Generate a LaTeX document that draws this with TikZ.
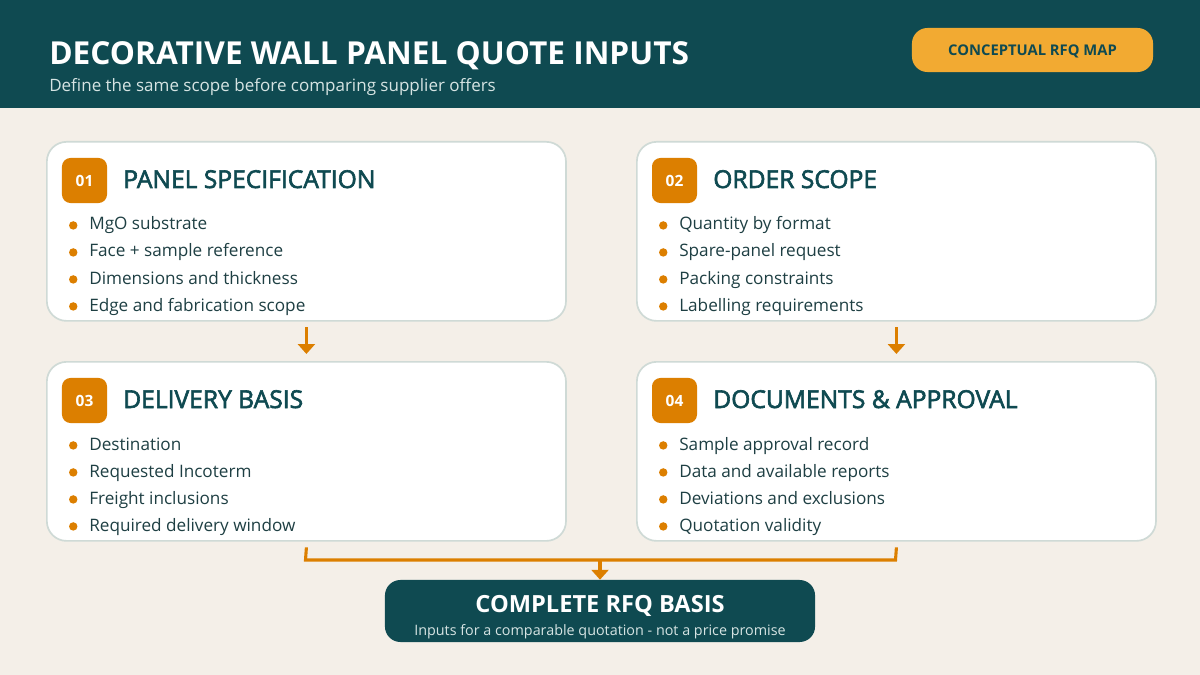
\documentclass[tikz,border=0pt]{standalone}
\usepackage{fontspec}
\setmainfont{Open Sans}
\newfontfamily\semibold{Open Sans}[FakeBold=2.5]
\usetikzlibrary{positioning,arrows.meta}
\definecolor{rfqteal}{HTML}{0F4A51}
\definecolor{rfqorange}{HTML}{DC7F00}
\definecolor{rfqgold}{HTML}{F2AA32}
\definecolor{rfqbg}{HTML}{F4EFE8}
\definecolor{rfqline}{HTML}{CFDAD6}
\definecolor{rfqtext}{HTML}{1E3F43}
\definecolor{rfqsub}{HTML}{D6E4E3}

\tikzset{
  card/.style={draw=rfqline, line width=1.2pt, fill=white, rounded corners=14pt,
    minimum width=12.975cm, minimum height=4.475cm, anchor=north west, inner sep=0pt},
  numbox/.style={fill=rfqorange, rounded corners=6pt, minimum size=1.125cm,
    text=white, font=\fontsize{11}{13}\selectfont\bfseries, inner sep=0pt},
  cardtitle/.style={anchor=base west, text=rfqteal, font=\semibold\fontsize{17.5}{20}\selectfont, inner sep=0pt},
  item/.style={anchor=base west, text=rfqtext, font=\fontsize{12.2}{15}\selectfont, inner sep=0pt,
    text height=9pt, text depth=2.5pt,
    label={[circle, fill=rfqorange, inner sep=0pt, minimum size=6pt, label distance=8pt]left:{}}},
  flow/.style={draw=rfqorange, line width=2.2pt, -{Triangle[length=7pt,width=12pt]}},
  joinline/.style={draw=rfqorange, line width=2.2pt}
}

\begin{document}
\begin{tikzpicture}[x=0.025cm, y=-0.025cm]
  \fill[rfqbg] (0,0) rectangle (1200,675);
  \fill[rfqteal] (0,0) rectangle (1200,108);
  \useasboundingbox (0,0) rectangle (1200,675);

  % header
  \node[anchor=base west, inner sep=0pt, text=white, font=\fontsize{22.5}{26}\selectfont\bfseries]
    (title) at (49,65) {DECORATIVE WALL PANEL QUOTE INPUTS};
  \node[anchor=base west, inner sep=0pt, text=rfqsub, font=\fontsize{12.1}{15}\selectfont]
    (subtitle) at (49,92) {Define the same scope before comparing supplier offers};
  \node[fill=rfqgold, rounded corners=11pt, minimum width=6.025cm, minimum height=1.1cm,
    text height=7.5pt, text depth=0pt, text=rfqteal, font=\fontsize{10.5}{12}\selectfont\bfseries]
    (tag) at (1032.5,50) {CONCEPTUAL RFQ MAP};

  % cards
  \node[card] (c1) at (46,141) {};
  \node[card] (c2) at (636,141) {};
  \node[card] (c3) at (46,361) {};
  \node[card] (c4) at (636,361) {};

  \node[numbox] (n1) at (84.5,180.5) {01};
  \node[cardtitle] (t1) at (123,188) {PANEL SPECIFICATION};
  \node[item] (i11) at (89,230) {MgO substrate};
  \node[item] (i12) at (89,257) {Face + sample reference};
  \node[item] (i13) at (89,284) {Dimensions and thickness};
  \node[item] (i14) at (89,311) {Edge and fabrication scope};

  \node[numbox] (n2) at (674.5,180.5) {02};
  \node[cardtitle] (t2) at (713,188) {ORDER SCOPE};
  \node[item] (i21) at (679,230) {Quantity by format};
  \node[item] (i22) at (679,257) {Spare-panel request};
  \node[item] (i23) at (679,284) {Packing constraints};
  \node[item] (i24) at (679,311) {Labelling requirements};

  \node[numbox] (n3) at (84.5,400.5) {03};
  \node[cardtitle] (t3) at (123,408) {DELIVERY BASIS};
  \node[item] (i31) at (89,450) {Destination};
  \node[item] (i32) at (89,477) {Requested Incoterm};
  \node[item] (i33) at (89,504) {Freight inclusions};
  \node[item] (i34) at (89,531) {Required delivery window};

  \node[numbox] (n4) at (674.5,400.5) {04};
  \node[cardtitle] (t4) at (713,408) {DOCUMENTS \& APPROVAL};
  \node[item] (i41) at (679,450) {Sample approval record};
  \node[item] (i42) at (679,477) {Data and available reports};
  \node[item] (i43) at (679,504) {Deviations and exclusions};
  \node[item] (i44) at (679,531) {Quotation validity};

  % result
  \node[fill=rfqteal, rounded corners=11pt, minimum width=10.75cm, minimum height=1.55cm,
    inner sep=0pt] (basis) at (600,611) {};
  \node[anchor=base, text=white, inner sep=0pt, font=\fontsize{16.8}{18}\selectfont\bfseries]
    (basistitle) at (600,612) {COMPLETE RFQ BASIS};
  \node[anchor=base, text=rfqsub, inner sep=0pt, font=\fontsize{10.2}{12}\selectfont]
    (basisnote) at (600,635) {Inputs for a comparable quotation - not a price promise};

  % connectors
  \coordinate (j1) at (305.5,560);
  \coordinate (j2) at (895.5,560);
  \coordinate (jm) at (600,560);
  \draw[flow] ([yshift=-4pt]c1.south) -- ([yshift=5pt]c3.north);
  \draw[flow] ([yshift=-4pt]c2.south) -- ([yshift=5pt]c4.north);
  \draw[joinline] ([yshift=-4pt]c3.south) -- (j1) -- (j2) -- ([yshift=-4pt]c4.south);
  \draw[flow] (jm) -- (basis.north);
\end{tikzpicture}
\end{document}
